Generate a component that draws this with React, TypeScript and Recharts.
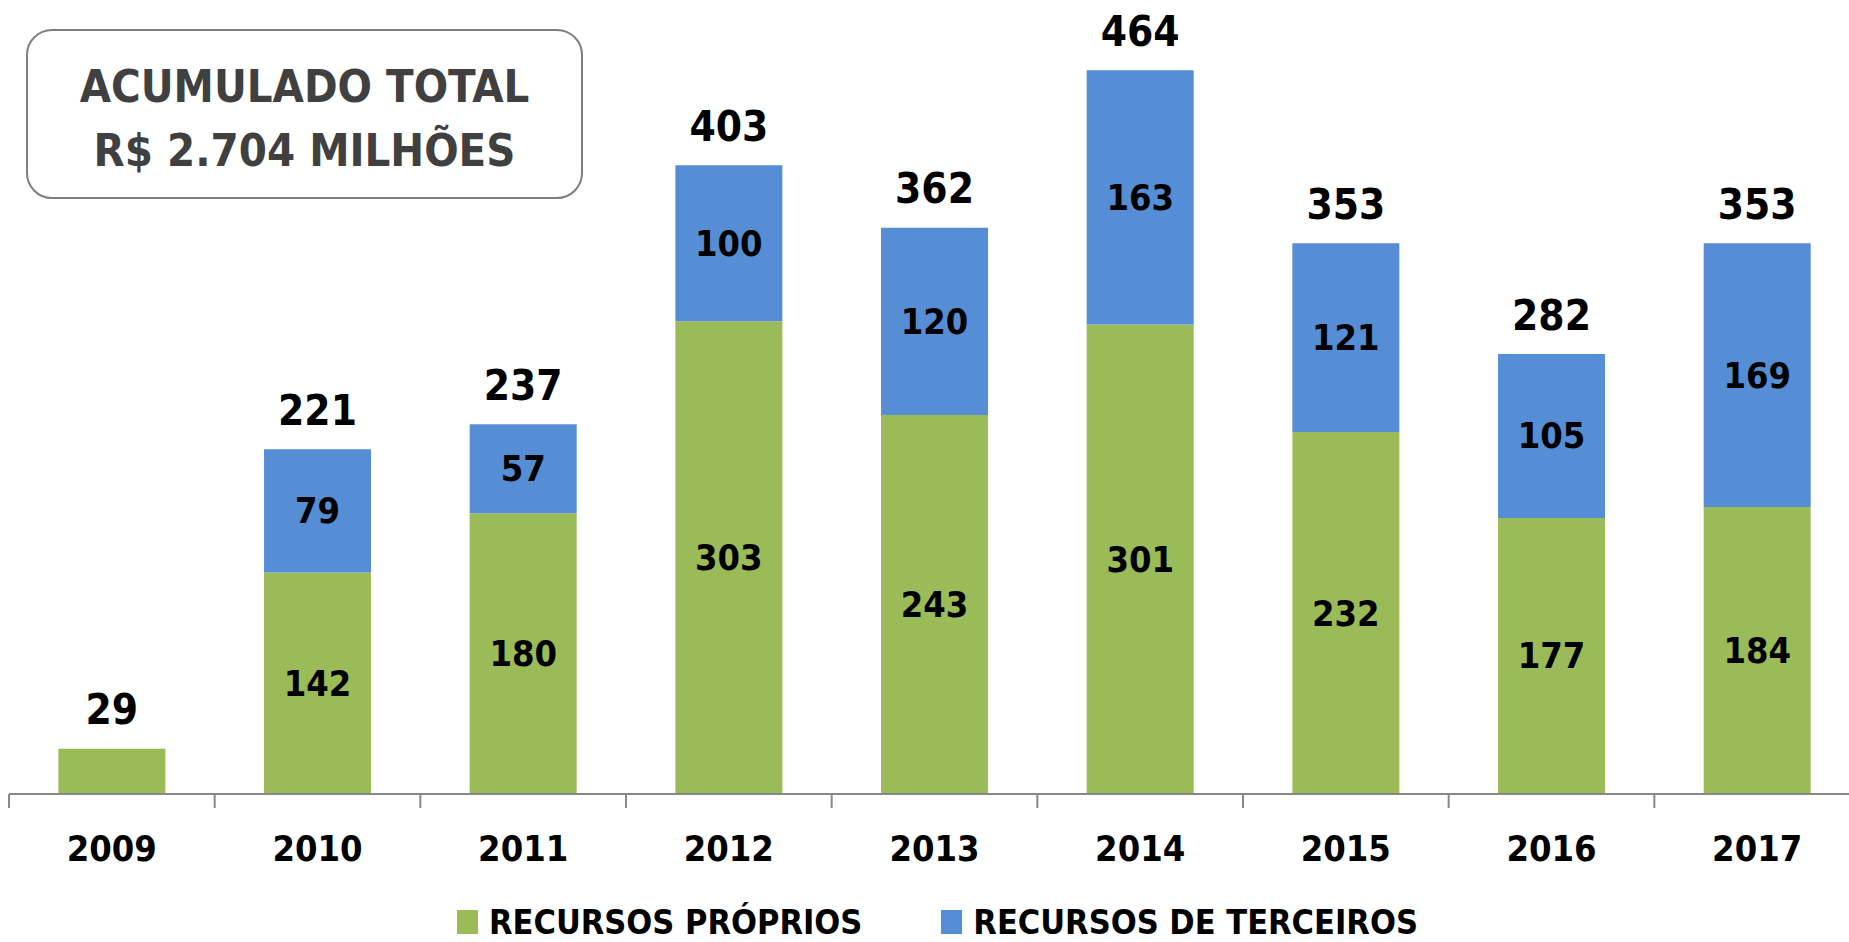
import { BarChart, Bar, XAxis, YAxis, LabelList, Legend } from 'recharts'

const YEARS = ['2009', '2010', '2011', '2012', '2013', '2014', '2015', '2016', '2017']
const PROPRIOS = [29, 142, 180, 303, 243, 301, 232, 177, 184]
const TERCEIROS = [0, 79, 57, 100, 120, 163, 121, 105, 169]
const TOTAIS = [29, 221, 237, 403, 362, 464, 353, 282, 353]

const FONT = "'Liberation Sans Narrow', 'DejaVu Sans Condensed', 'Open Sans', sans-serif"
const GREEN = '#9BBB59'
const BLUE = '#558ED5'

const CHART_W = 1860
const CHART_H = 942
const MARGIN = { top: 14, right: 0, left: 9, bottom: 0 }
const BAND = (CHART_W - MARGIN.left - MARGIN.right) / YEARS.length

const data = YEARS.map((year, i) => ({
  year,
  proprios: PROPRIOS[i],
  terceiros: TERCEIROS[i],
  total: TOTAIS[i],
}))

function YearTick({ x, y, payload }: any) {
  const left = x - BAND / 2
  return (
    <g>
      <line x1={left} y1={y - 8} x2={left} y2={y + 6} stroke="#888" strokeWidth={2} />
      <text x={x} y={y + 46} textAnchor="middle" dominantBaseline="central" fontFamily={FONT} fontWeight={700} fontSize={36} fill="#000">
        {payload.value}
      </text>
    </g>
  )
}

function InnerLabel({ x, y, width, height, value }: any) {
  if (!value || height < 50) return null
  return (
    <text x={x + width / 2} y={y + height / 2} textAnchor="middle" dominantBaseline="central" fontFamily={FONT} fontWeight={700} fontSize={36} fill="#000">
      {value}
    </text>
  )
}

// drawn from the green (bottom) bar so that 2009, with no blue segment, still gets its total
function TotalLabel({ x, y, width, height, index, value }: any) {
  const perUnit = height / PROPRIOS[index]
  const top = y - TERCEIROS[index] * perUnit
  return (
    <text x={x + width / 2} y={top - 39} textAnchor="middle" dominantBaseline="central" fontFamily={FONT} fontWeight={700} fontSize={42} fill="#000">
      {value}
    </text>
  )
}

function LegendBox() {
  const item = (color: string, label: string) => (
    <div style={{ display: 'flex', alignItems: 'center', gap: 11 }}>
      <div style={{ width: 21, height: 24, background: color }} />
      <span style={{ fontFamily: FONT, fontWeight: 700, fontSize: 34, color: '#000', lineHeight: '36px' }}>{label}</span>
    </div>
  )
  return (
    <div style={{ display: 'flex', gap: 79 }}>
      {item(GREEN, 'RECURSOS PRÓPRIOS')}
      {item(BLUE, 'RECURSOS DE TERCEIROS')}
    </div>
  )
}

export default function App() {
  return (
    <div style={{ position: 'absolute', left: 0, top: 0, width: 1849, height: 942, overflow: 'hidden', background: '#fff' }}>
      <BarChart width={CHART_W} height={CHART_H} data={data} margin={MARGIN} barCategoryGap="24%">
        <XAxis
          dataKey="year"
          height={112}
          axisLine={{ stroke: '#888', strokeWidth: 2 }}
          tickLine={false}
          tick={<YearTick />}
          interval={0}
        />
        <YAxis hide domain={[0, 500]} />
        <Legend
          verticalAlign="bottom"
          content={<LegendBox />}
          wrapperStyle={{ position: 'absolute', left: 457, top: 904, width: 1000, height: 36 }}
        />
        <Bar dataKey="proprios" stackId="a" fill={GREEN} isAnimationActive={false}>
          <LabelList dataKey="proprios" content={<InnerLabel />} />
          <LabelList dataKey="total" content={<TotalLabel />} />
        </Bar>
        <Bar dataKey="terceiros" stackId="a" fill={BLUE} isAnimationActive={false}>
          <LabelList dataKey="terceiros" content={<InnerLabel />} />
        </Bar>
      </BarChart>
      <div
        style={{
          position: 'absolute', left: 26, top: 29, width: 557, height: 170,
          border: '2px solid #7f7f7f', borderRadius: 26,
          display: 'flex', flexDirection: 'column', alignItems: 'center', justifyContent: 'center',
          fontFamily: FONT, fontWeight: 700, fontSize: 45, color: '#404040', lineHeight: '64px',
          paddingTop: 10, boxSizing: 'border-box',
        }}
      >
        <div>ACUMULADO TOTAL</div>
        <div>R$ 2.704 MILHÕES</div>
      </div>
    </div>
  )
}
